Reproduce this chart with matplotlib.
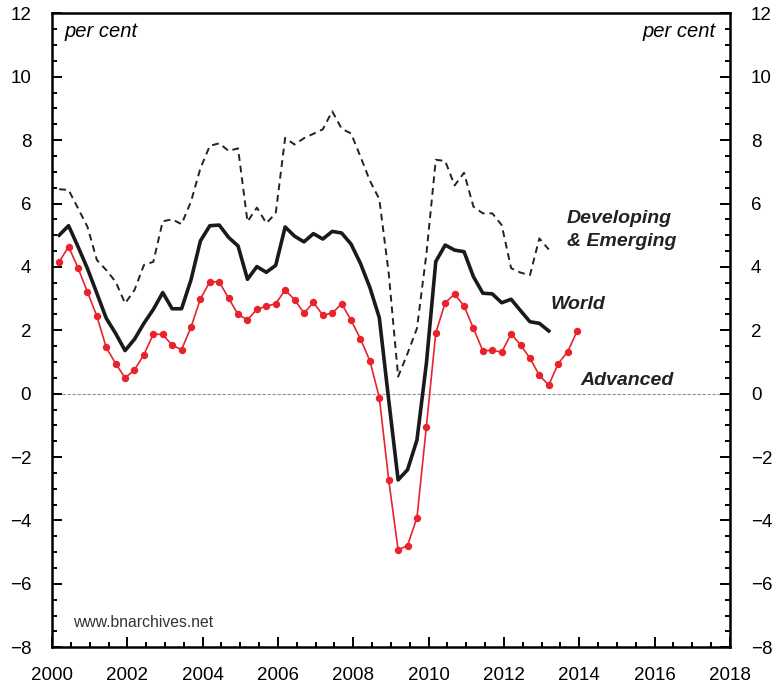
import numpy as np
import matplotlib.pyplot as plt
from matplotlib.ticker import MultipleLocator

plt.rcParams['font.family'] = ['Liberation Sans', 'DejaVu Sans']

# quarterly data, 2000Q1 onwards (per cent)
advanced = [4.16, 4.64, 3.97, 3.21, 2.45, 1.46, 0.95, 0.50,
            0.75, 1.23, 1.88, 1.87, 1.53, 1.39, 2.10, 2.99,
            3.53, 3.53, 3.01, 2.50, 2.33, 2.66, 2.76, 2.84,
            3.27, 2.97, 2.54, 2.88, 2.48, 2.54, 2.84, 2.32,
            1.73, 1.04, -0.12, -2.72, -4.93, -4.79, -3.91, -1.04,
            1.92, 2.87, 3.14, 2.77, 2.06, 1.35, 1.37, 1.31,
            1.89, 1.54, 1.12, 0.58, 0.27, 0.95, 1.32, 1.97]
world = [5.00, 5.30, 4.64, 3.95, 3.17, 2.38, 1.90, 1.36,
         1.72, 2.22, 2.66, 3.19, 2.68, 2.68, 3.59, 4.82,
         5.30, 5.32, 4.93, 4.66, 3.61, 4.01, 3.83, 4.05,
         5.26, 4.97, 4.79, 5.05, 4.88, 5.12, 5.07, 4.72,
         4.11, 3.35, 2.40, -0.20, -2.72, -2.40, -1.46, 0.95,
         4.17, 4.69, 4.53, 4.48, 3.69, 3.17, 3.15, 2.87,
         2.98, 2.62, 2.27, 2.22, 1.98]
developing = [6.45, 6.43, 5.85, 5.27, 4.22, 3.90, 3.53, 2.85,
              3.27, 4.06, 4.16, 5.44, 5.50, 5.35, 6.06, 7.11,
              7.82, 7.90, 7.66, 7.74, 5.43, 5.87, 5.38, 5.69,
              8.07, 7.86, 8.06, 8.20, 8.34, 8.91, 8.36, 8.21,
              7.48, 6.72, 6.14, 3.80, 0.54, 1.27, 2.06, 4.40,
              7.38, 7.34, 6.57, 6.97, 5.90, 5.69, 5.69, 5.32,
              3.96, 3.82, 3.74, 4.90, 4.55]

start = 2000.19
x_adv = start + 0.25 * np.arange(len(advanced))
x_wld = start + 0.25 * np.arange(len(world))
x_dev = start + 0.25 * np.arange(len(developing))

fig = plt.figure(figsize=(7.81, 6.87), dpi=100)
ax = fig.add_axes([0.0666, 0.0578, 0.868, 0.9228])

ax.axhline(0, color='#8a949c', lw=0.8, ls=(0, (3, 1.5)), zorder=1)
ax.plot(x_dev, developing, color='#222222', lw=1.4, dashes=(3.5, 2.5), zorder=2)
ax.plot(x_wld, world, color='#1a1a1a', lw=2.6, zorder=3)
ax.plot(x_adv, advanced, color='#e8232b', lw=1.2, marker='o', ms=4.3, zorder=4)

ax.set_xlim(2000, 2018)
ax.set_ylim(-8, 12)
ax.xaxis.set_major_locator(MultipleLocator(2))
ax.xaxis.set_minor_locator(MultipleLocator(0.5))
ax.yaxis.set_major_locator(MultipleLocator(2))
ax.yaxis.set_minor_locator(MultipleLocator(0.5))
ax.tick_params(which='both', direction='in', top=False, right=True,
               labelright=True, labelsize=13.5, width=1.4)
ax.tick_params(which='major', length=7)
ax.tick_params(which='minor', length=3.5)
ax.tick_params(axis='y', pad=15)
ax.tick_params(axis='x', pad=14)
for s in ax.spines.values():
    s.set_linewidth(1.8)

ax.text(2000.32, 11.44, 'per cent', style='italic', fontsize=14.5, va='center', ha='left')
ax.text(2017.63, 11.44, 'per cent', style='italic', fontsize=14.5, va='center', ha='right')
ax.text(2013.67, 5.16, 'Developing\n& Emerging', style='italic', weight='bold',
        fontsize=14, va='center', ha='left', color='#222222', linespacing=1.45)
ax.text(2013.25, 2.83, 'World', style='italic', weight='bold', fontsize=14,
        va='center', ha='left', color='#222222')
ax.text(2014.02, 0.43, 'Advanced', style='italic', weight='bold', fontsize=14,
        va='center', ha='left', color='#222222')
ax.text(2000.56, -7.23, 'www.bnarchives.net', fontsize=11.3, va='center', ha='left',
        color='#333333')

fig.savefig('out.png', dpi=100)
